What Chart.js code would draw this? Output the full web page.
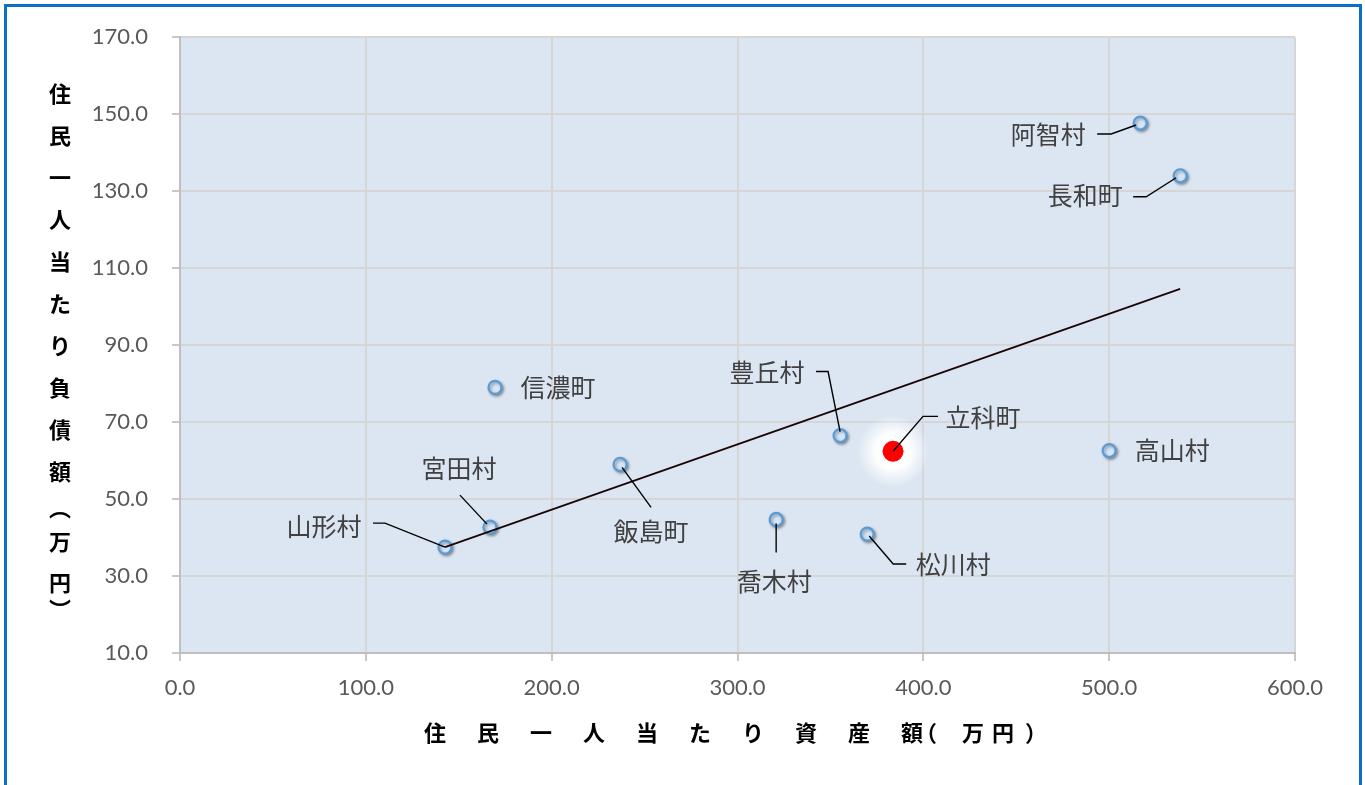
<!DOCTYPE html>
<html>
<head>
<meta charset="utf-8">
<script src="https://cdn.jsdelivr.net/npm/chart.js@4.4.0/dist/chart.umd.min.js"></script>
<style>
  html, body { margin: 0; padding: 0; background: #fff; }
  #wrap { position: relative; width: 1365px; height: 785px; overflow: hidden; }
</style>
</head>
<body>
<div id="wrap"><canvas id="chart" width="1365" height="785"></canvas></div>
<script>
// データ（住民一人当たり資産額・負債額、万円）
const names  = ['山形村', '宮田村', '信濃町', '飯島町', '喬木村', '豊丘村', '松川村', '高山村', '阿智村', '長和町']
const assets = [142.6, 166.8, 169.5, 236.8, 320.8, 355.2, 369.8, 500.0, 516.7, 538.2]
const debts  = [37.5, 42.7, 79.0, 59.0, 44.7, 66.5, 40.9, 62.6, 147.7, 134.0]

const focusName  = '立科町'
const focusAsset = [383.7]
const focusDebt  = [62.4]

// 近似直線（両端）
const trendAsset = [142.6, 538.2]
const trendDebt  = [37.5, 104.6]

const xMin = 0, xMax = 600, xStep = 100
const yMin = 10, yMax = 170, yStep = 20

const xTitle = '住民一人当たり資産額'
const xTitleUnit = '（万円）'
const yTitle = ['住', '民', '一', '人', '当', 'た', 'り', '負', '債', '額', '︵', '万', '円', '︶']

// ラベルの位置（点からのずらし）と引き出し線
const labelPlace = {
    '阿智村': { t: [-92, 11], line: [[-43, 11], [-29, 11], [-4, 2]] },
    '長和町': { t: [-95, 20], line: [[-47, 21], [-34, 21], [-4, 2]] },
    '信濃町': { t: [63, 0] },
    '豊丘村': { t: [-73, -63], line: [[-24, -64], [-12, -64], [0, -4]] },
    '立科町': { t: [90, -34], line: [[45, -35], [30, -35], [0, 0]] },
    '高山村': { t: [63, 0] },
    '宮田村': { t: [-31, -59], line: [[-30, -32], [-3, -3]] },
    '山形村': { t: [-121, -21], line: [[-72, -24], [-60, -24], [0, 0]] },
    '飯島町': { t: [31, 67], line: [[31, 43], [2, 3]] },
    '喬木村': { t: [-2, 62], line: [[0, 33], [0, 4]] },
    '松川村': { t: [86, 30], line: [[39, 30], [26, 30], [2, 2]] }
}

const cjk = '"Noto Sans CJK JP", "Noto Sans", sans-serif'

const decor = {
    id: 'decor',
    beforeDraw(chart) {
        const { ctx, chartArea: a } = chart
        ctx.save()
        ctx.fillStyle = '#DCE6F2'
        ctx.fillRect(a.left, a.top, a.right - a.left, a.bottom - a.top)
        ctx.restore()
    },
    beforeDatasetDraw(chart, args) {
        const ctx = chart.ctx
        ctx.save()
        if (args.index === 1) {
            ctx.shadowColor = 'rgba(0,0,0,0.35)'
            ctx.shadowBlur = 3
            ctx.shadowOffsetX = 1.5
            ctx.shadowOffsetY = 1.5
        } else if (args.index === 2) {
            // 立科町の白い光彩
            const px = chart.scales.x.getPixelForValue(focusAsset[0])
            const py = chart.scales.y.getPixelForValue(focusDebt[0])
            const g = ctx.createRadialGradient(px, py, 10, px, py, 36)
            g.addColorStop(0, 'rgba(255,255,255,1)')
            g.addColorStop(0.3, 'rgba(255,255,255,0.95)')
            g.addColorStop(0.65, 'rgba(255,255,255,0.45)')
            g.addColorStop(1, 'rgba(255,255,255,0)')
            ctx.fillStyle = g
            ctx.beginPath()
            ctx.arc(px, py, 36, 0, Math.PI * 2)
            ctx.fill()
        }
    },
    afterDatasetDraw(chart) {
        chart.ctx.restore()
    },
    afterDatasetsDraw(chart) {
        const { ctx, scales } = chart
        const all = names.map((n, i) => [n, assets[i], debts[i]])
        all.push([focusName, focusAsset[0], focusDebt[0]])
        ctx.save()
        all.forEach(([n, ax, dy]) => {
            const p = labelPlace[n]
            if (!p) return
            const px = scales.x.getPixelForValue(ax)
            const py = scales.y.getPixelForValue(dy)
            if (p.line) {
                ctx.beginPath()
                ctx.strokeStyle = '#000'
                ctx.lineWidth = 1.4
                p.line.forEach(([lx, ly], k) => {
                    if (k === 0) ctx.moveTo(px + lx, py + ly)
                    else ctx.lineTo(px + lx, py + ly)
                })
                ctx.stroke()
            }
            ctx.fillStyle = '#404040'
            ctx.font = '25px ' + cjk
            ctx.textAlign = 'center'
            ctx.textBaseline = 'middle'
            ctx.fillText(n, px + p.t[0], py + p.t[1])
        })
        ctx.restore()
    },
    afterDraw(chart) {
        const ctx = chart.ctx
        ctx.save()
        ctx.fillStyle = '#000'
        ctx.font = 'bold 22px ' + cjk
        ctx.textBaseline = 'middle'
        // 横軸タイトル
        ctx.textAlign = 'center'
        for (let i = 0; i < xTitle.length; i++) {
            ctx.fillText(xTitle[i], 435 + i * 53, 733)
        }
        const unitPos = [926, 973, 1003, 1036]
        for (let i = 0; i < xTitleUnit.length; i++) {
            ctx.fillText(xTitleUnit[i], unitPos[i], 733)
        }
        // 縦軸タイトル
        const yPos = [94, 136, 178, 220, 262, 304, 346, 388, 430, 472, 508, 542, 583, 610]
        yTitle.forEach((c, i) => ctx.fillText(c, 60, yPos[i]))
        // 外枠
        ctx.strokeStyle = '#0B6FC6'
        ctx.lineWidth = 3
        ctx.strokeRect(5.5, 5.5, 1355, 800)
        ctx.restore()
    }
}

const tickFont = { family: 'Lato, "Open Sans", sans-serif', size: 22 }

new Chart(document.getElementById('chart'), {
    type: 'scatter',
    data: {
        datasets: [
            {
                label: '近似直線',
                data: trendAsset.map((x, i) => ({ x, y: trendDebt[i] })),
                showLine: true,
                borderColor: '#1A0505',
                borderWidth: 1.8,
                pointRadius: 0,
                order: 0
            },
            {
                label: '市町村',
                data: assets.map((x, i) => ({ x, y: debts[i] })),
                pointRadius: 6.5,
                pointBackgroundColor: '#D2E5F9',
                pointBorderColor: '#5B9BD5',
                pointBorderWidth: 2.2,
                order: 2
            },
            {
                label: focusName,
                data: focusAsset.map((x, i) => ({ x, y: focusDebt[i] })),
                pointRadius: 10.5,
                pointBackgroundColor: '#FF0000',
                pointBorderColor: '#FF0000',
                pointBorderWidth: 0,
                order: 1
            }
        ]
    },
    options: {
        responsive: false,
        animation: false,
        layout: { padding: { top: 36, right: 70, left: 0, bottom: 0 } },
        plugins: {
            legend: { display: false },
            tooltip: { enabled: false }
        },
        scales: {
            x: {
                type: 'linear',
                min: xMin,
                max: xMax,
                afterFit: s => { s.height = 132 },
                ticks: {
                    stepSize: xStep,
                    padding: 14,
                    color: '#595959',
                    font: tickFont,
                    maxRotation: 0,
                    callback: v => v.toFixed(1)
                },
                grid: { color: '#D6D6D6', lineWidth: 2, tickLength: 8, tickColor: '#C8C8C8' },
                border: { color: '#BFBFBF', width: 2 }
            },
            y: {
                type: 'linear',
                min: yMin,
                max: yMax,
                afterFit: s => { s.width = 180 },
                ticks: {
                    stepSize: yStep,
                    padding: 24,
                    color: '#595959',
                    font: tickFont,
                    callback: v => v.toFixed(1)
                },
                grid: { color: '#D6D6D6', lineWidth: 2, tickLength: 8, tickColor: '#C8C8C8' },
                border: { color: '#BFBFBF', width: 2 }
            }
        }
    },
    plugins: [decor]
})
</script>
</body>
</html>
